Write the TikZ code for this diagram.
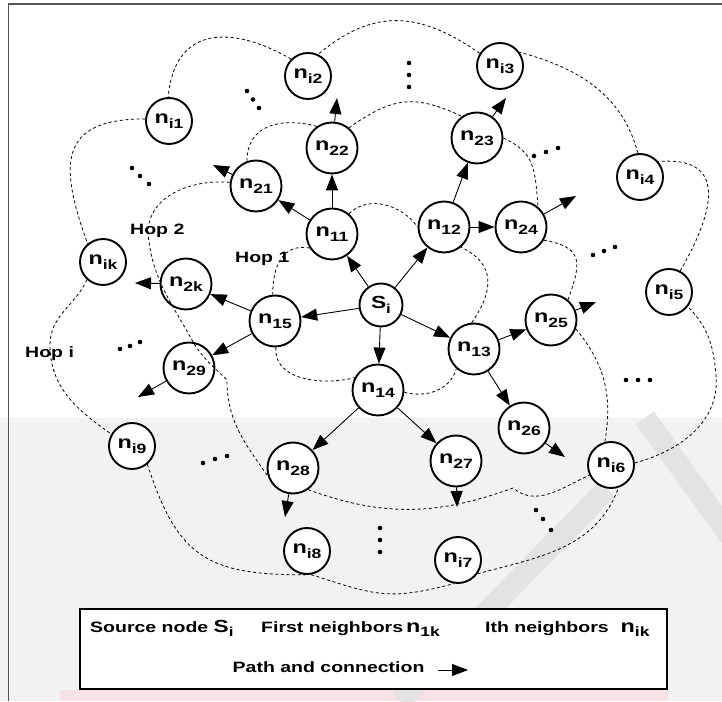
\documentclass[tikz,border=0pt]{standalone}
\usepackage{fontspec}
\setmainfont{Liberation Sans}[FakeStretch=1.3]
\usetikzlibrary{arrows.meta}
\definecolor{wmgray}{RGB}{241,242,242}
\definecolor{wmpink}{RGB}{247,226,229}
\definecolor{wmbar}{RGB}{227,227,227}
\definecolor{framegray}{RGB}{85,85,85}
% node label: n with a lowered index
\newcommand\nlab[1]{{\fontsize{18pt}{18pt}\selectfont n}\raisebox{-4.5pt}{\fontsize{13.5pt}{13.5pt}\selectfont #1}}
% source label S_i
\newcommand\slab{{\fontsize{17.5pt}{17.5pt}\selectfont S}\raisebox{-4.5pt}{\fontsize{13pt}{13pt}\selectfont i}}
\begin{document}
\begin{tikzpicture}[x=1pt,y=1pt,
  every node/.style={font=\bfseries},
  peer/.style={circle, draw, line width=1.9pt, fill=white, minimum size=51pt, inner sep=0pt},
  far/.style={peer, minimum size=46pt},
  origin/.style={peer, minimum size=43pt},
  link/.style={line width=0.9pt, -{Triangle[length=16pt,width=12pt]}},
  hopline/.style={line width=0.8pt, dash pattern=on 3pt off 2.6pt},
  hoptext/.style={anchor=base west, inner sep=0pt, font=\bfseries\fontsize{15pt}{15pt}\selectfont},
  keytext/.style={anchor=base west, inner sep=0pt, font=\bfseries\fontsize{15pt}{15pt}\selectfont}]

\useasboundingbox (0,0) rectangle (722,701);
\fill[white] (0,0) rectangle (722,701);

% faint background shading
\fill[wmgray] (0,0) rectangle (722,283);
\fill[wmpink] (60,0) rectangle (668,11);
\draw[wmbar, line width=22pt] (645,283) -- (730,165);
\draw[wmbar, line width=22pt] (607,212) -- (400,0);

% frame
\draw[framegray, line width=1.4pt] (8.5,0) -- (8.5,697) -- (722,697);

% source and first neighbours
\node[origin] (si)  at (381,396) {\slab};
\node[peer] (n11) at (332,467) {\nlab{11}};
\node[peer] (n12) at (444,474) {\nlab{12}};
\node[peer] (n13) at (474,352) {\nlab{13}};
\node[peer] (n14) at (378,311) {\nlab{14}};
\node[peer] (n15) at (275,380) {\nlab{15}};
% second neighbours
\node[peer] (n21) at (256,515) {\nlab{21}};
\node[peer] (n22) at (332,553) {\nlab{22}};
\node[peer] (n23) at (477,563) {\nlab{23}};
\node[peer] (n24) at (521,474) {\nlab{24}};
\node[peer] (n25) at (551,381) {\nlab{25}};
\node[peer] (n26) at (524,273) {\nlab{26}};
\node[peer] (n27) at (456,240) {\nlab{27}};
\node[peer] (n28) at (293,233) {\nlab{28}};
\node[peer] (n29) at (189,333) {\nlab{29}};
\node[peer] (n2k) at (186,417) {\nlab{2k}};
% i-th neighbours
\node[far] (ni1) at (169,580) {\nlab{i1}};
\node[far] (ni2) at (308,625) {\nlab{i2}};
\node[far] (ni3) at (500,635) {\nlab{i3}};
\node[far] (ni4) at (640,524) {\nlab{i4}};
\node[far] (ni5) at (669,409) {\nlab{i5}};
\node[far] (ni6) at (611,236) {\nlab{i6}};
\node[far] (ni7) at (458,141) {\nlab{i7}};
\node[far] (ni8) at (307,150) {\nlab{i8}};
\node[far] (ni9) at (132,255) {\nlab{i9}};
\node[far] (nik) at (103,439) {\nlab{ik}};

% hop labels
\node[hoptext] (hop2) at (130,466) {Hop 2};
\node[hoptext] (hop1) at (235,438) {Hop 1};
\node[hoptext] (hopi) at (25,343) {Hop i};

% open ends of the outgoing paths
\coordinate (t21) at (213,536);
\coordinate (t22) at (337,603);
\coordinate (t23) at (506,603);
\coordinate (t24) at (576,505);
\coordinate (t25) at (596,399);
\coordinate (t26) at (565,244);
\coordinate (t27) at (457,194);
\coordinate (t28) at (285,184);
\coordinate (t29) at (138,304);
\coordinate (t2k) at (135,418);

% connections
\foreach \a/\b in {si/n11, si/n12, si/n13, si/n14, si/n15,
                   n11/n21, n11/n22, n12/n23, n12/n24, n13/n25,
                   n13/n26, n14/n27, n14/n28, n15/n2k, n15/n29,
                   n21/t21, n22/t22, n23/t23, n24/t24, n25/t25,
                   n26/t26, n27/t27, n28/t28, n29/t29, n2k/t2k}
  \draw[link] (\a) -- (\b);

% hop 1 boundary
\draw[hopline] (n11.212) to[out=170, in=90, looseness=1.2] (n15.95);
\draw[hopline] (n15.272) to[out=-95, in=195] (n14.152);
\draw[hopline] (n14.-5) to[out=-15, in=255] (n13.228);
\draw[hopline] (n13.95) to[out=55, in=-25, looseness=1.3] (n12.-50);
\draw[hopline] (n11.50) to[out=45, in=125] (n12.180);

% hop 2 boundary
\draw[hopline] (n21.172) to[out=175, in=90] (148,468)
  to[out=-85, in=119] (192,361) to[out=-61, in=135] (227,321)
  to[out=-90, in=125] (n28.198);
\draw[hopline] (n28.-55) to[out=-20, in=200] (513,213)
  to[out=-40, in=205] (ni6.205);
\draw[hopline] (n24.-30) to[out=-10, in=70, looseness=1.6] (n25.50);
\draw[hopline] (n25.-20) to[out=-50, in=80] (ni6.105);
\draw[hopline] (n23.0) to[out=-25, in=95, looseness=1.2] (n24.50);
\draw[hopline] (n22.50) to[out=35, in=155, looseness=1.2] (n23.125);
\draw[hopline] (n22.125) to[out=165, in=90, looseness=1.2] (n21.110);

% hop i boundary
\draw[hopline] (ni2.135) to[out=150, in=85, looseness=1.4] (ni1.92);
\draw[hopline] (ni1.175) to[out=180, in=110, looseness=1.6] (nik.130);
\draw[hopline] (nik.228) to[out=-115, in=90] (50,356) to[out=-90, in=145] (ni9.150);
\draw[hopline] (ni9.-50) to[out=-72, in=180, looseness=1.3] (ni8.-95);
\draw[hopline] (ni8.-80) to[out=-18, in=195, looseness=1.2] (ni7.-100);
\draw[hopline] (ni7.-35) to[out=15, in=-110] (ni6.-72);
\draw[hopline] (ni6.5) to[out=15, in=-85] (716,326) to[out=95, in=-45] (ni5.-38);
\draw[hopline] (ni5.62) to[out=60, in=5, looseness=1.6] (ni4.40);
\draw[hopline] (ni4.95) to[out=105, in=-15] (ni3.35);
\draw[hopline] (ni3.148) to[out=145, in=40, looseness=1.15] (ni2.65);

% ellipsis marks
\foreach \x/\y in {247/610, 253/601.5, 259/593,
                   132/533, 140/525, 149/517,
                   409/638, 409/626, 409/614,
                   534/545, 546/549, 558/553,
                   593/446, 604/450, 615/454,
                   120/352, 130/355, 140/359,
                   203/238, 215/242, 227/245,
                   626/321, 638/321, 650/321,
                   536/191, 543/182, 551/171,
                   380/173, 380/161, 380/149}
  \fill (\x,\y) circle (2.3pt);

% key
\node[draw, line width=1.6pt, fill=white, minimum width=587pt, minimum height=80pt, inner sep=0pt] (keybox) at (373.5,52) {};
\node[keytext] (ksrc) at (90,69) {Source node \slab};
\node[keytext] (kfirst) at (261,69) {First neighbors\hspace{3pt}\nlab{1k}};
\node[keytext] (kith) at (485,69) {Ith neighbors\hspace{12pt}\nlab{ik}};
\node[keytext] (kpath) at (232.5,29) {Path and connection};
\coordinate (ka) at (438,31);
\coordinate (kb) at (468,31);
\draw[link] (ka) -- (kb);
\end{tikzpicture}
\end{document}
